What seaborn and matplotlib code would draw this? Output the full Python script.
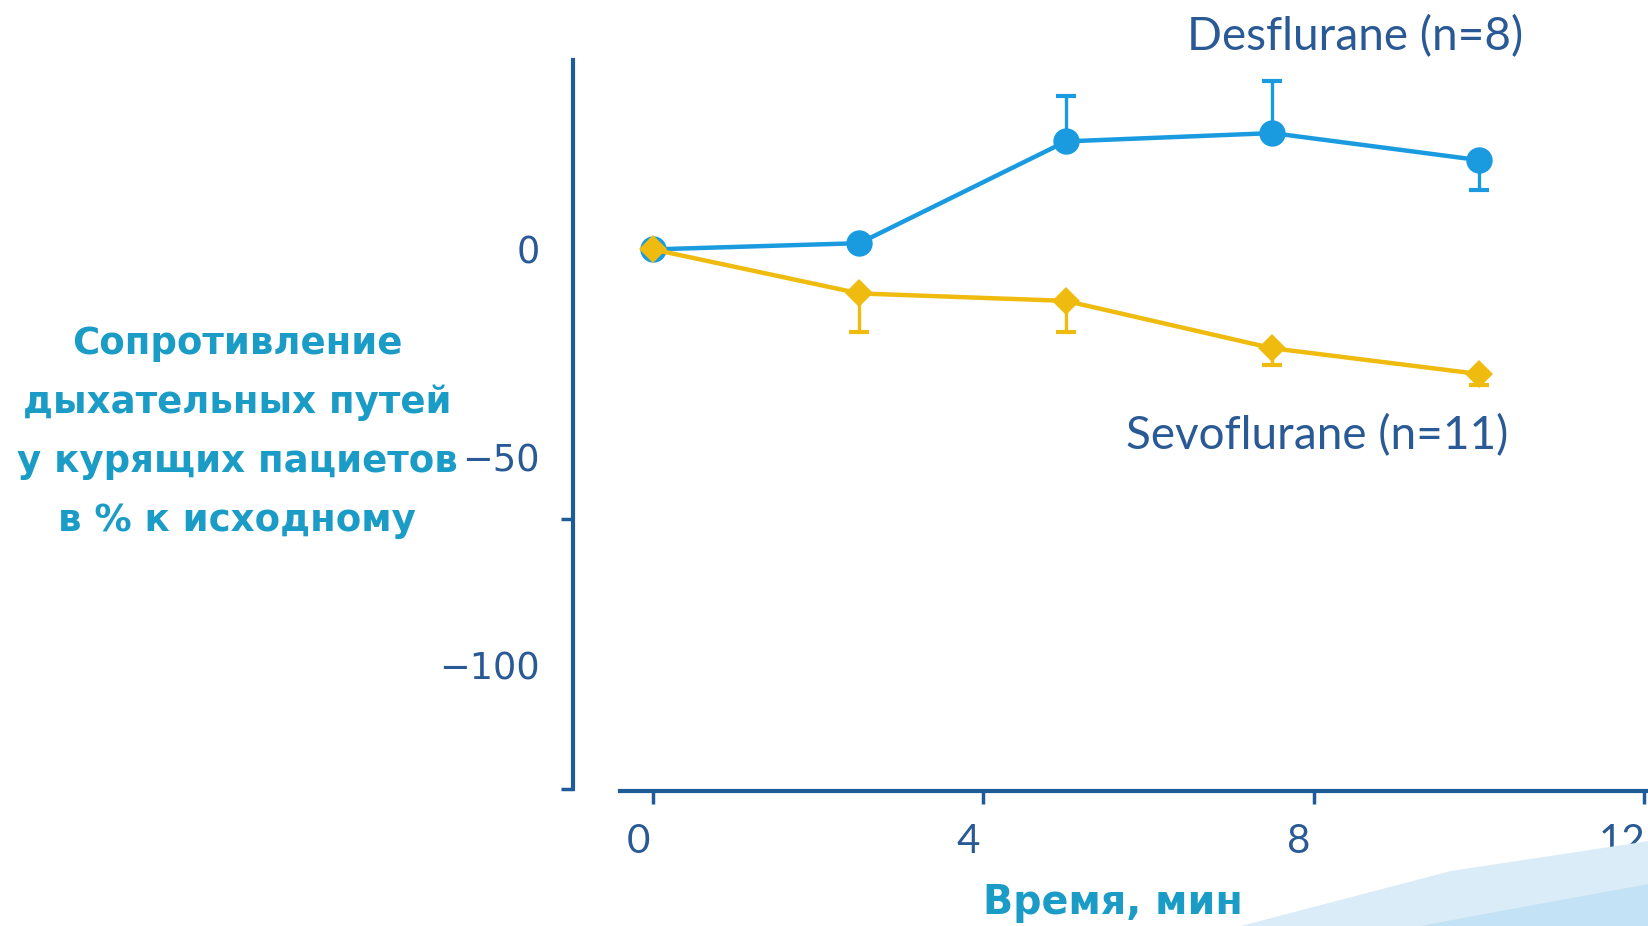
import matplotlib
matplotlib.use("Agg")
import matplotlib.pyplot as plt
import matplotlib.transforms as mtransforms
from matplotlib.patches import Polygon
import numpy as np
import pandas as pd
import seaborn as sns

# ── Data ─────────────────────────────────────────────────────────────────────
time_min = [0, 2.5, 5, 7.5, 10]

des_mean = [0, 1.5, 26, 28, 21.5]
des_err_lo = [0, 0, 0, 0, 7.3]
des_err_hi = [0, 0, 11, 12.5, 0]

sevo_mean = [0, -10.6, -12.4, -23.8, -30]
sevo_err_lo = [0, 9.4, 7.6, 4, 2.6]
sevo_err_hi = [0, 0, 0, 0, 0]

x_ticks = [0, 4, 8, 12]
y_ticks = [0, -50, -100]

DES_LABEL = "Desflurane (n=8)"
SEVO_LABEL = "Sevoflurane (n=11)"
Y_LABEL = "Сопротивление\nдыхательных путей\nу курящих пациетов\nв % к исходному"
X_LABEL = "Время, мин"

# ── Style ────────────────────────────────────────────────────────────────────
sns.set_theme(style="white")
plt.rcParams["font.family"] = ["Lato", "DejaVu Sans"]

BLUE = "#1a9be0"
YELLOW = "#efbb0e"
AXIS = "#1f5b99"
TEXT = "#2a5a96"
TEAL = "#1b9cc6"

W, H = 1649, 926
fig = plt.figure(figsize=(W / 100, H / 100), dpi=100)
fig.patch.set_facecolor("white")

# decorative swoosh bottom right
fig.patches.append(Polygon(
    [(1241 / W, 0), (1451 / W, (926 - 871) / H), (1649 / W, (926 - 841) / H),
     (1, 0)], closed=True, transform=fig.transFigure,
    facecolor="#d9ecf8", edgecolor="none", zorder=0))
fig.patches.append(Polygon(
    [(1420 / W, 0), (1550 / W, (926 - 902) / H), (1649 / W, (926 - 884) / H),
     (1, 0)], closed=True, transform=fig.transFigure,
    facecolor="#c4e2f5", edgecolor="none", zorder=0))

ax = fig.add_axes([573 / W, (926 - 791) / H, (W - 573) / W, (791 - 60) / H])
ax.set_facecolor("none")

df = pd.DataFrame({
    "time": time_min * 2,
    "value": des_mean + sevo_mean,
    "drug": ["Desflurane"] * len(time_min) + ["Sevoflurane"] * len(time_min),
})

ax.errorbar(time_min, des_mean, yerr=[des_err_lo, des_err_hi], fmt="none",
            ecolor=BLUE, elinewidth=2.4, capsize=7, capthick=3, zorder=2)
ax.errorbar(time_min, sevo_mean, yerr=[sevo_err_lo, sevo_err_hi], fmt="none",
            ecolor=YELLOW, elinewidth=2.4, capsize=7, capthick=3, zorder=2)

sns.lineplot(data=df, x="time", y="value", hue="drug", style="drug",
             palette={"Desflurane": BLUE, "Sevoflurane": YELLOW},
             markers={"Desflurane": "o", "Sevoflurane": "D"}, dashes=False,
             markersize=19, markeredgewidth=0, linewidth=3.2, legend=False,
             ax=ax, zorder=3)
# diamond markers a bit smaller than circles
for line in ax.lines:
    if line.get_marker() == "D":
        line.set_markersize(14)

ax.set_xlim(-0.969, 12.06)
ax.set_ylim(-130.4, 45.6)

for side in ("top", "right"):
    ax.spines[side].set_visible(False)
for side in ("left", "bottom"):
    ax.spines[side].set_color(AXIS)
    ax.spines[side].set_linewidth(3)
ax.spines["bottom"].set_bounds(-0.40, 12.06)
ax.spines["left"].set_bounds(-130, 45.6)

ax.set_xticks(x_ticks)
ax.set_xticklabels([str(t) for t in x_ticks])
ax.tick_params(axis="x", bottom=True, direction="out", length=9, width=2.5,
               color=AXIS, pad=14, labelsize=29, labelcolor=TEXT)
for lab in ax.get_xticklabels():
    if lab.get_text() == "12":
        lab.set_horizontalalignment("right")
        dx = 1
    else:
        dx = -15
    shift = mtransforms.ScaledTranslation(dx / 100, 0, fig.dpi_scale_trans)
    lab.set_transform(lab.get_transform() + shift)

ax.set_yticks(y_ticks)
ax.set_yticklabels(["0", "\u221250", "\u2212100"], family="DejaVu Sans")
ax.tick_params(axis="y", which="major", left=True, length=0, pad=24,
               labelsize=26.5, labelcolor=TEXT)
ax.set_yticks([0, -64.8, -130], minor=True)
ax.tick_params(axis="y", which="minor", left=True, direction="out", length=9,
               width=2.5, color=AXIS)

ax.set_xlabel("")
ax.set_ylabel("")

fig.text(237 / W, 1 - 432 / H, Y_LABEL, ha="center", va="center",
         family="DejaVu Sans", fontweight="bold", fontsize=26.7, color=TEAL,
         linespacing=1.76)
fig.text(1113 / W, 1 - 903 / H, X_LABEL, ha="center", va="center",
         family="DejaVu Sans", fontweight="bold", fontsize=28.5, color=TEAL)

ax.annotate(DES_LABEL, xy=(1355 / W, 1 - 37 / H), xycoords="figure fraction",
            ha="center", va="center", fontsize=33, color=TEXT)
ax.annotate(SEVO_LABEL, xy=(1317 / W, 1 - 436 / H), xycoords="figure fraction",
            ha="center", va="center", fontsize=33, color=TEXT)

fig.savefig("out.png", dpi=100)
